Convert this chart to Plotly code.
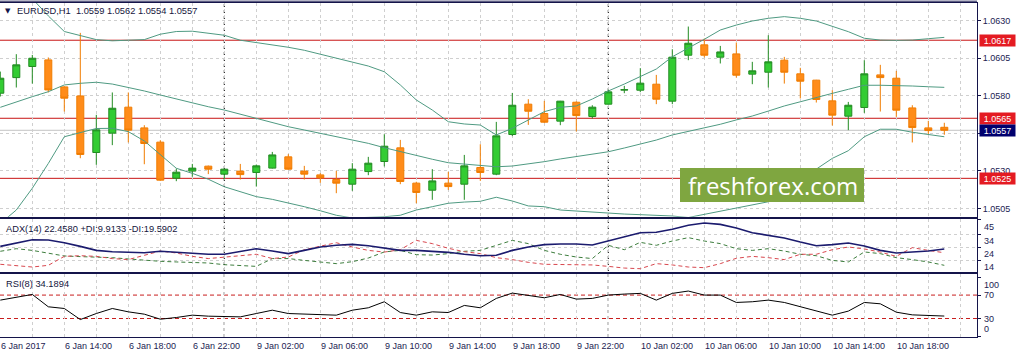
import plotly.graph_objects as go

# ---------------- data ----------------
symbol = "EURUSD,H1"
last_ohlc = ["1.0559", "1.0562", "1.0554", "1.0557"]
bar_index = list(range(60))

open_ = [1.05817, 1.05921, 1.05995, 1.06039, 1.05859, 1.05799, 1.05422, 1.05551, 1.05724, 1.05586,
         1.05491, 1.05251, 1.05298, 1.05331, 1.05278, 1.05298, 1.05289, 1.05318, 1.05393, 1.05298,
         1.05273, 1.05242, 1.05211, 1.05295, 1.05362, 1.05453, 1.05218, 1.05171, 1.05218, 1.05211,
         1.05322, 1.05278, 1.05542, 1.05744, 1.05682, 1.05631, 1.05757, 1.05662, 1.05744, 1.05838,
         1.05837, 1.05877, 1.05764, 1.06070, 1.06139, 1.06057, 1.06079, 1.05944, 1.05957, 1.06037,
         1.05946, 1.05904, 1.05766, 1.05664, 1.05722, 1.05939, 1.05917, 1.05719, 1.05586, 1.05590]
high = [1.05961, 1.06077, 1.06072, 1.06055, 1.05864, 1.06219, 1.05673, 1.05822, 1.05822, 1.05604,
        1.05504, 1.05315, 1.05346, 1.05335, 1.05315, 1.05346, 1.05342, 1.05426, 1.05411, 1.05333,
        1.05284, 1.05300, 1.05351, 1.05393, 1.05544, 1.05506, 1.05227, 1.05311, 1.05293, 1.05406,
        1.05477, 1.05626, 1.05819, 1.05777, 1.05766, 1.05766, 1.05762, 1.05737, 1.05841, 1.05866,
        1.05984, 1.05939, 1.06110, 1.06261, 1.06181, 1.06132, 1.06155, 1.06026, 1.06203, 1.06059,
        1.05986, 1.05906, 1.05837, 1.05759, 1.06037, 1.06006, 1.05966, 1.05737, 1.05633, 1.05620]
low = [1.05795, 1.05855, 1.05881, 1.05822, 1.05695, 1.05384, 1.05340, 1.05471, 1.05489, 1.05344,
       1.05233, 1.05231, 1.05260, 1.05278, 1.05244, 1.05242, 1.05195, 1.05315, 1.05307, 1.05242,
       1.05220, 1.05151, 1.05167, 1.05271, 1.05329, 1.05211, 1.05084, 1.05107, 1.05173, 1.05107,
       1.05233, 1.05271, 1.05531, 1.05606, 1.05619, 1.05604, 1.05562, 1.05648, 1.05742, 1.05817,
       1.05824, 1.05744, 1.05744, 1.06037, 1.06055, 1.06015, 1.05921, 1.05877, 1.05855, 1.05881,
       1.05782, 1.05755, 1.05602, 1.05571, 1.05686, 1.05695, 1.05659, 1.05489, 1.05544, 1.05540]
close = [1.05917, 1.06006, 1.06050, 1.05839, 1.05784, 1.05409, 1.05573, 1.05717, 1.05571, 1.05482,
         1.05238, 1.05291, 1.05318, 1.05311, 1.05311, 1.05275, 1.05333, 1.05406, 1.05311, 1.05278,
         1.05253, 1.05218, 1.05311, 1.05351, 1.05464, 1.05229, 1.05156, 1.05233, 1.05195, 1.05333,
         1.05289, 1.05533, 1.05737, 1.05697, 1.05624, 1.05764, 1.05668, 1.05724, 1.05826, 1.05840,
         1.05884, 1.05777, 1.06057, 1.06150, 1.06070, 1.06092, 1.05937, 1.05966, 1.06026, 1.05957,
         1.05897, 1.05775, 1.05671, 1.05737, 1.05946, 1.05921, 1.05704, 1.05588, 1.05568, 1.05570]

bb_upper = [1.06676, 1.06563, 1.06450, 1.06332, 1.06228, 1.06199, 1.06174, 1.06166, 1.06168, 1.06174,
            1.06210, 1.06228, 1.06230, 1.06219, 1.06203, 1.06170, 1.06154, 1.06141, 1.06123, 1.06103,
            1.06077, 1.06050, 1.06027, 1.05998, 1.05960, 1.05872, 1.05772, 1.05705, 1.05627, 1.05612,
            1.05605, 1.05539, 1.05583, 1.05639, 1.05694, 1.05723, 1.05732, 1.05778, 1.05832, 1.05878,
            1.05927, 1.05978, 1.06060, 1.06116, 1.06176, 1.06238, 1.06271, 1.06298, 1.06316, 1.06327,
            1.06316, 1.06298, 1.06260, 1.06227, 1.06183, 1.06171, 1.06169, 1.06171, 1.06180, 1.06189]
bb_middle = [1.05723, 1.05760, 1.05794, 1.05827, 1.05872, 1.05883, 1.05890, 1.05878, 1.05856, 1.05832,
             1.05805, 1.05778, 1.05750, 1.05727, 1.05705, 1.05676, 1.05650, 1.05623, 1.05594, 1.05572,
             1.05550, 1.05532, 1.05510, 1.05483, 1.05454, 1.05427, 1.05399, 1.05377, 1.05354, 1.05345,
             1.05337, 1.05327, 1.05332, 1.05345, 1.05361, 1.05379, 1.05394, 1.05412, 1.05427, 1.05452,
             1.05477, 1.05505, 1.05539, 1.05561, 1.05583, 1.05610, 1.05639, 1.05665, 1.05698, 1.05732,
             1.05760, 1.05790, 1.05816, 1.05843, 1.05870, 1.05870, 1.05870, 1.05865, 1.05860, 1.05856]
bb_lower = [1.04949, 1.05039, 1.05184, 1.05349, 1.05527, 1.05552, 1.05582, 1.05583, 1.05561, 1.05499,
            1.05405, 1.05317, 1.05283, 1.05244, 1.05194, 1.05161, 1.05128, 1.05110, 1.05088, 1.05061,
            1.05034, 1.05004, 1.04986, 1.04989, 1.04994, 1.05004, 1.05039, 1.05061, 1.05084, 1.05092,
            1.05097, 1.05124, 1.05099, 1.05066, 1.05061, 1.05039, 1.05032, 1.05024, 1.05017, 1.05012,
            1.05008, 1.05004, 1.04999, 1.04989, 1.05010, 1.05034, 1.05057, 1.05077, 1.05094, 1.05168,
            1.05239, 1.05312, 1.05383, 1.05434, 1.05527, 1.05577, 1.05577, 1.05557, 1.05543, 1.05527]

adx = [24.5, 27.1, 29.6, 29.4, 27.3, 24.5, 21.4, 20.4, 19.9, 19.6,
       20.7, 20.1, 19.1, 18.4, 18.4, 20.7, 22.7, 20.9, 18.9, 21.4,
       24.0, 25.3, 26.0, 25.0, 23.0, 21.4, 21.4, 20.9, 19.9, 18.4,
       17.3, 17.6, 21.4, 24.0, 25.8, 26.3, 26.3, 25.5, 28.6, 31.7,
       35.0, 35.3, 37.6, 40.7, 42.5, 41.4, 38.6, 35.0, 32.7, 30.9,
       27.8, 25.0, 25.8, 27.1, 24.8, 21.4, 19.4, 20.1, 20.9, 22.458]
plus_di = [20.7, 22.7, 21.4, 19.4, 17.1, 16.6, 16.3, 15.8, 14.8, 13.7,
           13.0, 12.5, 12.2, 11.7, 10.4, 9.6, 9.1, 15.1, 15.1, 13.7,
           12.5, 11.2, 12.7, 15.5, 20.2, 21.4, 18.1, 17.8, 18.9, 20.7,
           21.4, 25.0, 29.1, 26.6, 21.4, 18.4, 16.3, 15.1, 25.3, 21.9,
           27.6, 25.3, 28.6, 31.2, 28.6, 26.6, 22.7, 21.4, 22.7, 20.9,
           18.4, 17.3, 13.7, 12.5, 20.2, 18.9, 15.8, 14.3, 12.5, 9.913]
minus_di = [10.7, 9.9, 8.6, 9.9, 16.8, 17.3, 16.8, 15.1, 14.3, 17.6,
            20.9, 19.4, 16.8, 15.1, 16.3, 17.6, 18.4, 15.1, 16.3, 21.9,
            24.5, 27.3, 24.0, 21.4, 20.1, 21.9, 29.1, 26.6, 23.0, 20.4,
            18.9, 15.8, 14.3, 12.2, 10.7, 10.7, 10.7, 10.2, 9.1, 7.8,
            7.3, 11.2, 10.2, 8.6, 8.1, 11.2, 15.3, 16.8, 15.8, 14.3,
            18.4, 18.4, 21.9, 24.0, 22.5, 20.1, 16.8, 23.5, 21.4, 19.590]
rsi = [61.4, 66.6, 71.1, 50.0, 47.1, 28.2, 38.5, 47.1, 41.4, 37.4,
       28.8, 31.7, 35.7, 34.0, 33.4, 32.8, 38.5, 44.2, 38.5, 37.4,
       35.7, 35.7, 44.2, 48.3, 58.6, 40.2, 35.7, 41.4, 40.2, 52.3,
       48.3, 64.3, 73.4, 70.0, 65.4, 71.1, 63.1, 64.3, 70.0, 71.7,
       72.9, 61.4, 72.9, 76.9, 70.0, 70.0, 57.4, 58.6, 61.4, 57.4,
       50.5, 42.5, 35.7, 42.6, 57.4, 55.1, 40.8, 36.2, 35.7, 34.189]

adx_header = "ADX(14) 22.4580 +DI:9.9133 -DI:19.5902"
rsi_header = "RSI(8) 34.1894"

price_ticks = [1.0505, 1.0530, 1.0555, 1.0580, 1.0605, 1.0630]
price_tick_text = ["1.0505", "1.0530", "", "1.0580", "1.0605", "1.0630"]  # 1.0555 hidden by the bid box
adx_ticks = [45, 34, 24, 14]
rsi_ticks = [100, 70, 30, 0]
rsi_levels = [70, 30]
red_levels = [1.0617, 1.0565, 1.0525]
bid_price = 1.0557
separator_index = [14, 38]
time_tick_index = [0, 4, 8, 12, 16, 20, 24, 28, 32, 36, 40, 44, 48, 52, 56]
time_tick_text = ["6 Jan 2017", "6 Jan 14:00", "6 Jan 18:00", "6 Jan 22:00", "9 Jan 02:00",
                  "9 Jan 06:00", "9 Jan 10:00", "9 Jan 14:00", "9 Jan 18:00", "9 Jan 22:00",
                  "10 Jan 02:00", "10 Jan 06:00", "10 Jan 10:00", "10 Jan 14:00", "10 Jan 18:00"]
watermark = "freshforex.com"

# ---------------- geometry / style ----------------
W, H = 1019, 355
ML, MR, MT, MB = 0, 42, 3, 18
PW = W - ML - MR
PH = H - MT - MB


def py(pix):
    return (H - MB - pix) / PH


def px(pix):
    return (pix - ML) / PW


FONT = "Liberation Sans, Arial, sans-serif"
NAVY = "#14144a"
TXT = "#1c1c52"
GRID = "#cfcfcf"
BAND = "#4f9a82"

fig = go.Figure()

fig.add_trace(go.Candlestick(
    x=bar_index, open=open_, high=high, low=low, close=close,
    increasing=dict(fillcolor="#33cc33", line=dict(color="#228b22", width=1)),
    decreasing=dict(fillcolor="#ff8c1a", line=dict(color="#f07c00", width=1)),
    whiskerwidth=0, xaxis="x", yaxis="y", showlegend=False, hoverinfo="skip"))

for band in (bb_upper, bb_middle, bb_lower):
    fig.add_trace(go.Scatter(x=bar_index, y=band, mode="lines",
                             line=dict(color=BAND, width=1), xaxis="x", yaxis="y",
                             showlegend=False, hoverinfo="skip"))

fig.add_trace(go.Scatter(x=bar_index, y=plus_di, mode="lines",
                         line=dict(color="#3d7d3d", width=1, dash="4px,3px"),
                         xaxis="x2", yaxis="y2", showlegend=False, hoverinfo="skip"))
fig.add_trace(go.Scatter(x=bar_index, y=minus_di, mode="lines",
                         line=dict(color="#d8474e", width=1, dash="4px,3px"),
                         xaxis="x2", yaxis="y2", showlegend=False, hoverinfo="skip"))
fig.add_trace(go.Scatter(x=bar_index, y=adx, mode="lines",
                         line=dict(color="#1b1b6e", width=1.6),
                         xaxis="x2", yaxis="y2", showlegend=False, hoverinfo="skip"))
fig.add_trace(go.Scatter(x=bar_index, y=rsi, mode="lines",
                         line=dict(color="#000000", width=1),
                         xaxis="x3", yaxis="y3", showlegend=False, hoverinfo="skip"))

xrange = [-0.3 / 16, (PW - 0.3) / 16]
xcommon = dict(range=xrange, showticklabels=False, tick0=0, dtick=2, automargin=False,
               showgrid=True, gridcolor=GRID, griddash="dot", gridwidth=1,
               showline=True, mirror=True, linecolor=NAVY, linewidth=1,
               zeroline=False, ticks="", fixedrange=True)

fig.update_layout(
    template="none",
    width=W, height=H,
    margin=dict(l=ML, r=MR, t=MT, b=MB, pad=0, autoexpand=False),
    paper_bgcolor="white", plot_bgcolor="white",
    font=dict(family=FONT, size=9, color=TXT),
    showlegend=False, boxgap=0.375, hovermode=False,
    xaxis=dict(domain=[0, 1], anchor="y", rangeslider=dict(visible=False), **xcommon),
    xaxis2=dict(domain=[0, 1], anchor="y2", matches="x", **xcommon),
    xaxis3=dict(domain=[0, 1], anchor="y3", matches="x", **xcommon),
    yaxis=dict(domain=[py(216.7), 1.0], anchor="x", side="right", automargin=False,
               range=[1.049944, 1.064179],
               tickvals=price_ticks, ticktext=price_tick_text,
               ticks="outside", ticklen=3, tickcolor=NAVY,
               tickfont=dict(size=9, color=TXT, family=FONT),
               showgrid=True, gridcolor=GRID, griddash="dot",
               showline=True, linecolor=NAVY, zeroline=False, fixedrange=True),
    yaxis2=dict(domain=[py(272.3), py(219)], anchor="x2", side="right", automargin=False,
                range=[4.54, 45.54], tickvals=adx_ticks, showticklabels=False,
                ticks="outside", ticklen=3, tickcolor=NAVY,
                showgrid=True, gridcolor=GRID, griddash="dot",
                showline=True, linecolor=NAVY, zeroline=False, fixedrange=True),
    yaxis3=dict(domain=[0.0, py(274.3)], anchor="x3", side="right", automargin=False,
                range=[-1.6, 105.5], tickvals=rsi_ticks, showticklabels=False,
                ticks="outside", ticklen=3, tickcolor=NAVY,
                showgrid=False, showline=True, linecolor=NAVY,
                zeroline=False, fixedrange=True),
)

shapes = []
for lv in red_levels:
    shapes.append(dict(type="line", xref="x domain", x0=0, x1=1, yref="y", y0=lv, y1=lv,
                       line=dict(color="#c81414", width=1), layer="below"))
shapes.append(dict(type="line", xref="x domain", x0=0, x1=1, yref="y", y0=bid_price, y1=bid_price,
                   line=dict(color="#c4c4c4", width=1), layer="below"))
for lv in rsi_levels:
    shapes.append(dict(type="line", xref="x3 domain", x0=0, x1=1, yref="y3", y0=lv, y1=lv,
                       line=dict(color="#c81e1e", width=1, dash="4px,3px"), layer="below"))
for s in separator_index:
    shapes.append(dict(type="line", xref="x", x0=s, x1=s, yref="paper", y0=0, y1=1,
                       line=dict(color="#000000", width=1, dash="dot"), layer="below"))
# second line of the double top frame
shapes.append(dict(type="line", xref="paper", x0=0, x1=1, yref="paper", y0=py(1.2), y1=py(1.2),
                   line=dict(color=NAVY, width=1)))
# watermark box
shapes.append(dict(type="rect", xref="paper", yref="paper",
                   x0=px(680), x1=px(864), y0=py(202), y1=py(168),
                   fillcolor="#7fa640", line=dict(width=0), layer="above"))
fig.update_layout(shapes=shapes)

ann = []
ann.append(dict(xref="paper", yref="paper", x=px(3), y=py(11.5), xanchor="left", yanchor="middle",
                text="▼", showarrow=False, font=dict(size=7, color=NAVY, family="DejaVu Sans")))
ann.append(dict(xref="paper", yref="paper", x=px(14.5), y=py(11.5), xanchor="left", yanchor="middle",
                text=symbol + "\u00a0\u00a0" + "\u00a0".join(last_ohlc), showarrow=False,
                font=dict(size=9.3, color="#14143c", family=FONT)))
ann.append(dict(xref="paper", yref="paper", x=px(4), y=py(229.3), xanchor="left", yanchor="middle",
                text=adx_header, showarrow=False, font=dict(size=9.3, color="#14143c", family=FONT)))
ann.append(dict(xref="paper", yref="paper", x=px(4), y=py(284), xanchor="left", yanchor="middle",
                text=rsi_header, showarrow=False, font=dict(size=9.3, color="#14143c", family=FONT)))

for i, t in zip(time_tick_index, time_tick_text):
    ann.append(dict(xref="x3", yref="paper", x=i, y=py(346), xanchor="left", yanchor="middle",
                    xshift=-1, text=t, showarrow=False, font=dict(size=9, color=TXT, family=FONT)))

for lv in red_levels:
    ann.append(dict(xref="paper", yref="y", x=px(979), y=lv, xanchor="left", yanchor="middle",
                    text=f"{lv:.4f}", showarrow=False, bgcolor="#e41b22", width=35, height=11,
                    borderpad=0, align="center", valign="middle",
                    font=dict(size=9, color="white", family=FONT)))
ann.append(dict(xref="paper", yref="y", x=px(979), y=bid_price, xanchor="left", yanchor="middle",
                text=f"{bid_price:.4f}", showarrow=False, bgcolor="#00006e", width=35, height=11,
                borderpad=0, align="center", valign="middle",
                font=dict(size=9, color="white", family=FONT)))

for v in adx_ticks:
    ann.append(dict(xref="paper", yref="y2", x=px(981.5), y=v, xanchor="left", yanchor="top",
                    text=str(v), showarrow=False, font=dict(size=9, color=TXT, family=FONT)))
for v in rsi_ticks:
    anchor = "middle" if v in rsi_levels else ("top" if v == max(rsi_ticks) else "bottom")
    ann.append(dict(xref="paper", yref="y3", x=px(981.5), y=v, xanchor="left", yanchor=anchor,
                    text=str(v), showarrow=False, font=dict(size=9, color=TXT, family=FONT)))

ann.append(dict(xref="paper", yref="paper", x=px(773), y=py(185), xanchor="center", yanchor="middle",
                text=watermark, showarrow=False,
                font=dict(size=24, color="white", family="Open Sans, sans-serif")))

fig.update_layout(annotations=ann)

fig.write_html("out.html",
               config={"displayModeBar": False, "staticPlot": True},
               post_script="document.body.style.margin='0';document.body.style.overflow='hidden';")
